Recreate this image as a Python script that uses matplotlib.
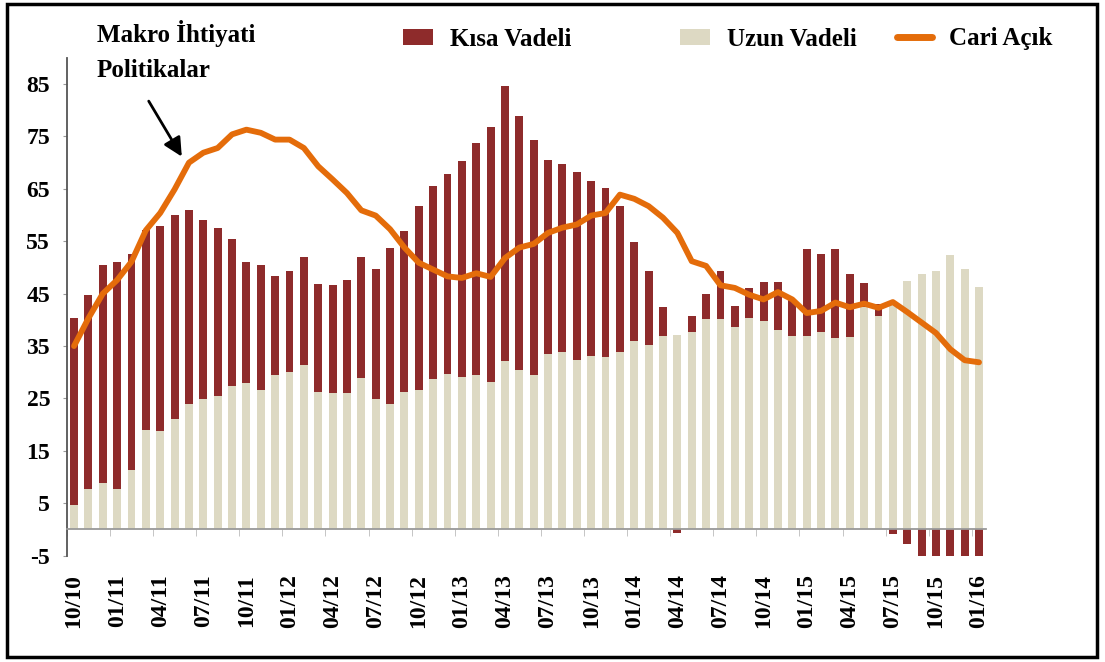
import numpy as np
import matplotlib
matplotlib.use('Agg')
import matplotlib.pyplot as plt
from matplotlib.patches import Rectangle, Patch
from matplotlib.lines import Line2D

plt.rcParams['font.family'] = ['Liberation Serif', 'DejaVu Serif']
plt.rcParams['font.weight'] = 'bold'
plt.rcParams['axes.unicode_minus'] = False

# monthly data, 10/2010 .. 01/2016
tick_labels = ['10/10', '01/11', '04/11', '07/11', '10/11', '01/12', '04/12', '07/12',
               '10/12', '01/13', '04/13', '07/13', '10/13', '01/14', '04/14', '07/14',
               '10/14', '01/15', '04/15', '07/15', '10/15', '01/16']

uzun = [4.6, 7.8, 8.8, 7.8, 11.3, 19.0, 18.8, 21.1, 23.9, 24.9, 25.4, 27.3, 28.0, 26.7, 29.4, 30.1,
        31.4, 26.3, 26.0, 26.0, 28.9, 24.9, 23.9, 26.2, 26.7, 28.8, 29.7, 29.1, 29.4, 28.1, 32.1, 30.5,
        29.4, 33.5, 33.8, 32.3, 33.2, 32.9, 33.8, 35.9, 35.3, 36.9, 37.2, 37.7, 40.1, 40.1, 38.7, 40.4,
        39.8, 38.0, 37.0, 37.0, 37.7, 36.6, 36.7, 42.5, 40.7, 43.0, 47.5, 48.7, 49.4, 52.3, 49.8, 46.3]

kisa = [35.8, 37.0, 41.7, 43.3, 41.2, 38.1, 39.2, 38.9, 37.1, 34.1, 32.2, 28.2, 23.1, 23.7, 18.9, 19.2,
        20.6, 20.6, 20.6, 21.6, 23.1, 24.8, 29.9, 30.7, 35.0, 36.7, 38.2, 41.2, 44.4, 48.7, 52.6, 48.5,
        45.0, 37.1, 35.9, 36.0, 33.3, 32.2, 27.9, 18.9, 14.0, 5.6, -0.6, 3.0, 4.9, 9.2, 4.0, 5.7,
        7.5, 9.3, 7.0, 16.6, 14.8, 17.0, 12.1, 4.5, 2.3, -0.8, -2.7, -5.0, -5.0, -5.0, -5.0, -5.0]

cari = [35.0, 40.3, 45.0, 47.6, 51.1, 57.1, 60.4, 64.9, 70.0, 71.9, 72.8, 75.4, 76.3, 75.7, 74.4, 74.4,
        72.8, 69.3, 66.8, 64.2, 60.9, 59.9, 57.3, 53.8, 50.9, 49.6, 48.3, 48.0, 48.9, 48.2, 51.8, 53.8,
        54.5, 56.6, 57.6, 58.2, 59.9, 60.4, 63.9, 63.1, 61.7, 59.5, 56.6, 51.2, 50.3, 46.6, 46.1, 44.8,
        43.9, 45.3, 43.9, 41.3, 41.7, 43.3, 42.4, 43.1, 42.3, 43.4, 41.5, 39.5, 37.5, 34.4, 32.3, 31.9]

red = '#8E2B2B'
beige = '#DDD9C3'
orange = '#E46C0A'

uzun = np.array(uzun)
kisa = np.array(kisa)
x = np.arange(len(uzun))

fig = plt.figure(figsize=(11.05, 6.62), dpi=100)
ax = fig.add_axes([0.0605, 0.1606, 0.832, 0.752])

ax.bar(x, uzun, width=0.55, color=beige)
# negative short-term values hang below zero
bottom = np.where(kisa >= 0, uzun, 0)
ax.bar(x, kisa, bottom=bottom, width=0.55, color=red)
ax.plot(x, cari, color=orange, lw=4.2, solid_joinstyle='round', solid_capstyle='round')

ax.set_xlim(-0.5, len(x) - 0.5)
ax.set_ylim(-5, 90)
for s in ['top', 'right']:
    ax.spines[s].set_visible(False)
ax.spines['bottom'].set_position(('data', 0))
ax.spines['bottom'].set_color('#999999')
ax.spines['bottom'].set_linewidth(1.3)
ax.spines['left'].set_color('#555555')
ax.spines['left'].set_linewidth(1.3)

ax.set_yticks(np.arange(-5, 90, 10))
ax.tick_params(axis='y', length=3, color='#999999', labelsize=17, pad=9)
ax.set_xticks(x[::3])
ax.set_xticklabels(tick_labels, rotation=90)
ax.tick_params(axis='x', which='major', length=0, pad=32, labelsize=17)
ax.set_xticks(np.arange(-0.5, len(x), 3), minor=True)
ax.tick_params(axis='x', which='minor', length=5, color='#bbbbbb')

# annotation
ax.annotate('', xy=(7.6, 70.7), xytext=(5.1, 82.2),
            arrowprops=dict(arrowstyle='-|>', color='black', lw=2, mutation_scale=28))
fig.text(97 / 1105, 1 - 20 / 662, 'Makro İhtiyati\nPolitikalar', fontsize=18,
         ha='left', va='top', linespacing=1.65)

# legend entries placed one by one
leg_kw = dict(loc='center left', frameon=False, fontsize=18, borderpad=0,
              borderaxespad=0, handletextpad=0.68)
fig.legend(handles=[Patch(facecolor=red)], labels=['Kısa Vadeli'],
           bbox_to_anchor=(403 / 1105, 1 - 39 / 662), handlelength=1.2, handleheight=0.6, **leg_kw)
fig.legend(handles=[Patch(facecolor=beige)], labels=['Uzun Vadeli'],
           bbox_to_anchor=(680 / 1105, 1 - 39 / 662), handlelength=1.2, handleheight=0.6, **leg_kw)
fig.legend(handles=[Line2D([], [], color=orange, lw=5, solid_capstyle='round')], labels=['Cari Açık'],
           bbox_to_anchor=(897 / 1105, 1 - 39 / 662), handlelength=1.4, **leg_kw)

# outer frame
fig.patches.append(Rectangle((7 / 1105, 5 / 662), 1090 / 1105, 653 / 662,
                             transform=fig.transFigure, fill=False, lw=2.5, ec='black'))

fig.savefig('out.png', dpi=100)
